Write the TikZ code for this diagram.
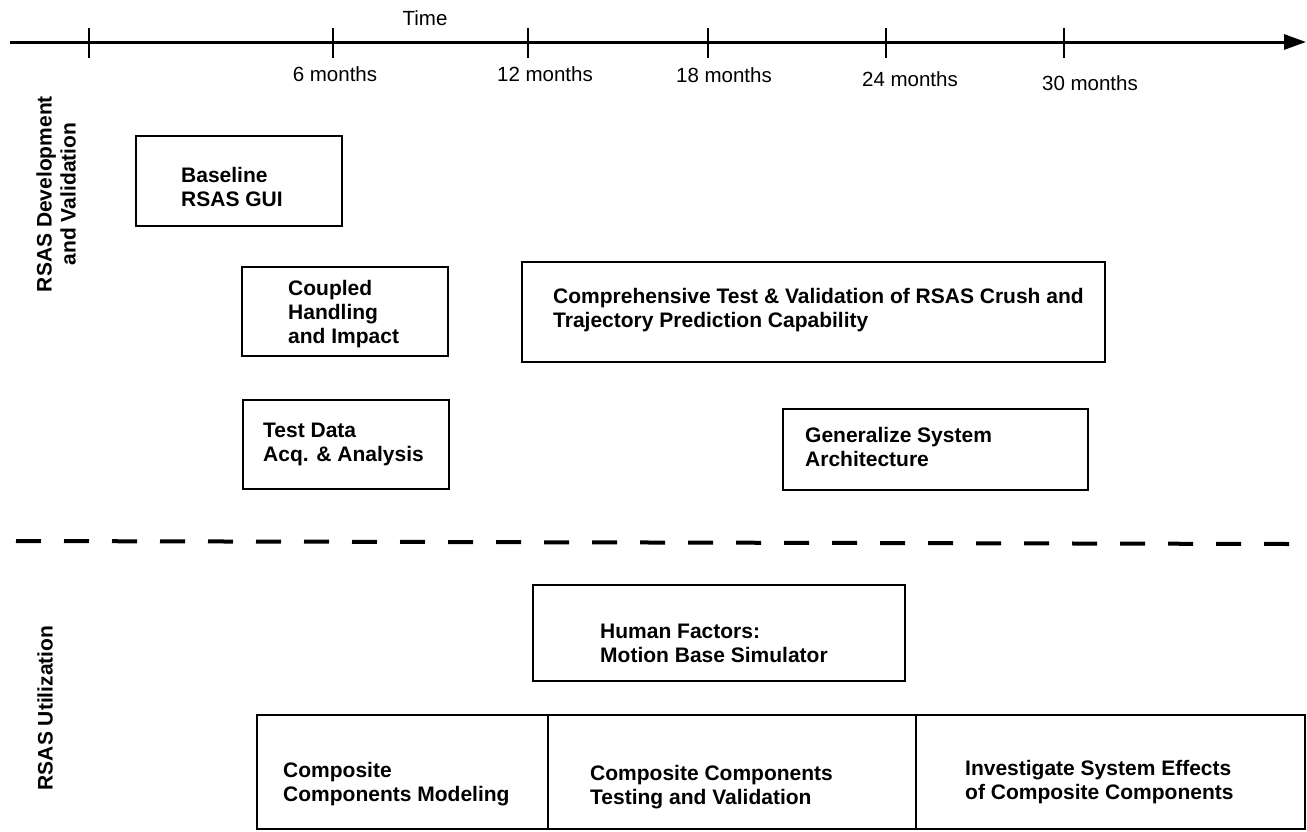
\documentclass[tikz,border=0pt]{standalone}
\usepackage{fontspec}
\setmainfont{Liberation Sans}
\usetikzlibrary{arrows.meta}
\newcommand{\cellblock}[1]{\begin{tabular}[t]{@{}l@{}}#1\end{tabular}}
\begin{document}
\begin{tikzpicture}[x=1pt,y=-1pt,
  box/.style={draw, line width=2.6pt, inner sep=0pt},
  txt/.style={font=\fontsize{21}{24}\selectfont\bfseries, anchor=base west, inner sep=0pt},
  mlabel/.style={font=\fontsize{20.5}{24}\selectfont, anchor=base, inner sep=0pt},
  side/.style={font=\fontsize{21}{24}\selectfont\bfseries, rotate=90, align=center, inner sep=0pt},
  tick/.style={line width=2pt},
  axis/.style={line width=3pt, -{Triangle[length=22pt,width=15pt]}},
  sep/.style={line width=4pt, dash pattern=on 25pt off 23pt}
]
\useasboundingbox (0,0) rectangle (1307,831);

% time axis
\coordinate (tstart) at (10,42);
\coordinate (tend) at (1306,42);
\draw[axis] (tstart) -- (tend);
\foreach \x in {89,333,528,708,886,1064}
  \draw[tick] (\x,28) -- (\x,58);
\node[mlabel] (time) at (425,25) {Time};
\node[mlabel] (m6) at (335,81) {6 months};
\node[mlabel] (m12) at (545,81) {12 months};
\node[mlabel] (m18) at (724,82) {18 months};
\node[mlabel] (m24) at (910,86) {24 months};
\node[mlabel] (m30) at (1090,90) {30 months};

% side labels
\node[side] (devlbl) at (56,194) {RSAS Development\\and Validation};
\node[side] (utillbl) at (45,708) {RSAS Utilization};

% upper boxes
\node[box, minimum width=206pt, minimum height=90pt] (baseline) at (239,181) {};
\node[txt] (baselinet) at (181,182) {\cellblock{Baseline\\RSAS GUI}};

\node[box, minimum width=206pt, minimum height=89pt] (coupled) at (345,311.5) {};
\node[txt] (coupledt) at (288,295) {\cellblock{Coupled\\Handling\\and Impact}};

\node[box, minimum width=206pt, minimum height=89pt] (testdata) at (346,444.5) {};
\node[txt] (testdatat) at (263,437) {\cellblock{Test Data\\Acq. \& Analysis}};

\node[box, minimum width=583pt, minimum height=100pt] (comp) at (813.5,312) {};
\node[txt] (compt) at (553,303) {\cellblock{Comprehensive Test \& Validation of RSAS Crush and\\Trajectory Prediction Capability}};

\node[box, minimum width=305pt, minimum height=81pt] (gen) at (935.5,449.5) {};
\node[txt] (gent) at (805,442) {\cellblock{Generalize System\\Architecture}};

% separator
\coordinate (sepl) at (16,541);
\coordinate (sepr) at (1290,544);
\draw[sep] (sepl) -- (sepr);

% lower boxes
\node[box, minimum width=372pt, minimum height=96pt] (human) at (719,633) {};
\node[txt] (humant) at (600,638) {\cellblock{Human Factors:\\Motion Base Simulator}};

\node[box, minimum width=291pt, minimum height=114pt] (ccm) at (402.5,772) {};
\node[box, minimum width=368pt, minimum height=114pt] (cct) at (732,772) {};
\node[box, minimum width=389pt, minimum height=114pt] (ise) at (1110.5,772) {};
\node[txt] (ccmt) at (283,777) {\cellblock{Composite\\Components Modeling}};
\node[txt] (cctt) at (590,780) {\cellblock{Composite Components\\Testing and Validation}};
\node[txt] (iset) at (965,775) {\cellblock{Investigate System Effects\\of Composite Components}};
\end{tikzpicture}
\end{document}
